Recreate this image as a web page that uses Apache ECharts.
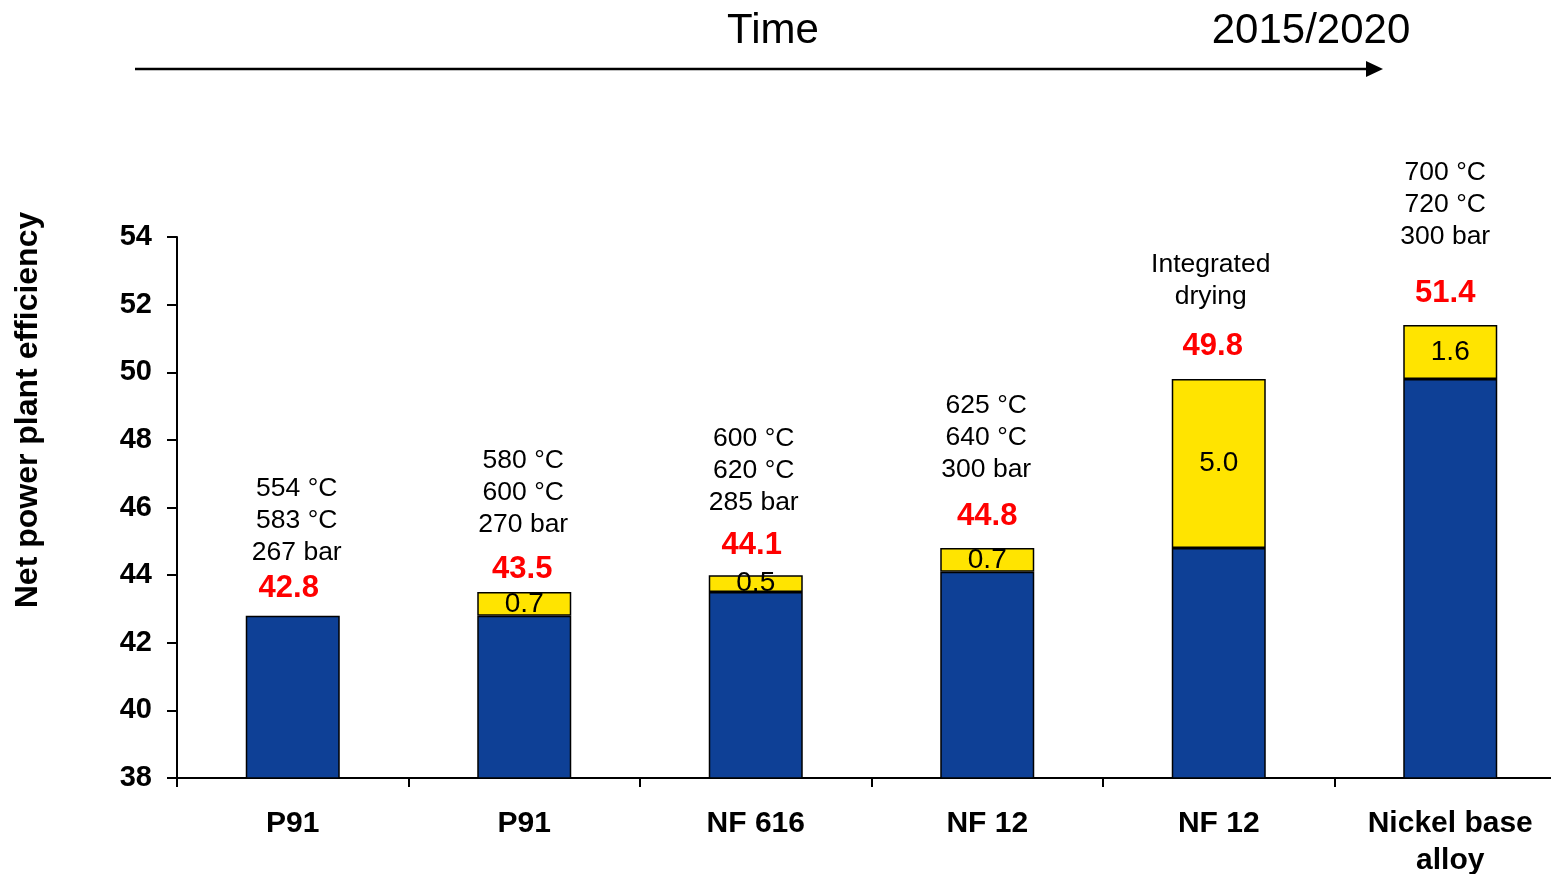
<!DOCTYPE html>
<html>
<head>
<meta charset="utf-8">
<title>Net power plant efficiency</title>
<script src="https://cdn.jsdelivr.net/npm/echarts@6/dist/echarts.min.js"></script>
<style>
  html, body { margin: 0; padding: 0; background: #ffffff; }
  #chart { width: 1551px; height: 874px; }
</style>
</head>
<body>
<div id="chart"></div>
<script>
// Steel grades / materials along the time line
var categories = ['P91', 'P91', 'NF 616', 'NF 12', 'NF 12', 'Nickel base\nalloy'];
// Efficiency of the previous stage (blue part of each bar)
var baseEfficiency = [42.8, 42.8, 43.5, 44.1, 44.8, 49.8];
// Gain over the previous stage (yellow part)
var efficiencyGain = [0, 0.7, 0.5, 0.7, 5.0, 1.6];
// Stated net efficiency above each bar
var totalEfficiency = [42.8, 43.5, 44.1, 44.8, 49.8, 51.4];
// Steam conditions / measures written above each bar
var conditions = [
  ['554 °C', '583 °C', '267 bar'],
  ['580 °C', '600 °C', '270 bar'],
  ['600 °C', '620 °C', '285 bar'],
  ['625 °C', '640 °C', '300 bar'],
  ['Integrated', 'drying'],
  ['700 °C', '720 °C', '300 bar']
];
var yTicks = { min: 38, max: 54, step: 2 };

// Label placement (pixels relative to the top of each bar)
var totalOffsets = [[-4, -27], [-2, -23], [-4, -26], [0, -32], [-6, -33], [-5, -31]];
var conditionOffsets = [[4, -95], [-1, -99], [-2, -101], [-1, -110], [-8, -98], [-5, -120]];

var FONT = '"Liberation Sans", Arial, Helvetica, sans-serif';
var BLUE = '#0E4096';
var YELLOW = '#FFE400';

var chart = echarts.init(document.getElementById('chart'), null, { renderer: 'canvas' });

var gainData = efficiencyGain.map(function (v) { return v > 0 ? v : null; });

var totalPoints = totalEfficiency.map(function (v, i) {
  return {
    value: [i, v],
    label: { offset: totalOffsets[i] }
  };
});

var conditionPoints = totalEfficiency.map(function (v, i) {
  return {
    value: [i, v],
    label: { offset: conditionOffsets[i], formatter: conditions[i].join('\n') }
  };
});

var option = {
  backgroundColor: '#ffffff',
  animation: false,
  grid: {
    left: 177, top: 237, width: 1389, height: 541,
    containLabel: false,
    outerBoundsMode: 'none'
  },
  xAxis: {
    type: 'category',
    data: categories,
    axisLine: { show: true, lineStyle: { color: '#000', width: 2 } },
    axisTick: { show: true, alignWithLabel: false, length: 9, lineStyle: { color: '#000', width: 2 } },
    axisLabel: {
      interval: 0,
      margin: 27,
      color: '#000',
      fontFamily: FONT,
      fontWeight: 'bold',
      fontSize: 30,
      lineHeight: 37
    },
    splitLine: { show: false }
  },
  yAxis: {
    type: 'value',
    min: yTicks.min,
    max: yTicks.max,
    interval: yTicks.step,
    axisLine: { show: true, lineStyle: { color: '#000', width: 2 } },
    axisTick: { show: true, inside: false, length: 10, lineStyle: { color: '#000', width: 2 } },
    axisLabel: {
      margin: 25,
      color: '#000',
      fontFamily: FONT,
      fontWeight: 'bold',
      fontSize: 29
    },
    splitLine: { show: false }
  },
  series: [
    {
      name: 'base',
      type: 'bar',
      stack: 'eff',
      barWidth: 94,
      data: baseEfficiency,
      itemStyle: { color: BLUE, borderColor: '#000', borderWidth: 1.5 },
      z: 2
    },
    {
      name: 'gain',
      type: 'bar',
      stack: 'eff',
      barWidth: 94,
      data: gainData,
      itemStyle: { color: YELLOW, borderColor: '#000', borderWidth: 1.5 },
      label: {
        show: true,
        position: 'inside',
        color: '#000',
        fontFamily: FONT,
        fontSize: 28,
        formatter: function (p) { return p.value.toFixed(1); }
      },
      z: 2
    },
    {
      name: 'total',
      type: 'scatter',
      symbolSize: 0,
      data: totalPoints,
      silent: true,
      itemStyle: { opacity: 1 },
      label: {
        show: true,
        position: 'inside',
        color: '#FF0000',
        opacity: 1,
        fontFamily: FONT,
        fontWeight: 'bold',
        fontSize: 31,
        formatter: function (p) { return p.value[1].toFixed(1); }
      },
      z: 5
    },
    {
      name: 'conditions',
      type: 'scatter',
      symbolSize: 0,
      data: conditionPoints,
      silent: true,
      itemStyle: { opacity: 1 },
      label: {
        show: true,
        position: 'inside',
        color: '#000',
        opacity: 1,
        fontFamily: FONT,
        fontSize: 26.5,
        lineHeight: 32,
        align: 'center'
      },
      z: 5
    }
  ],
  graphic: [
    // time arrow
    {
      type: 'line',
      shape: { x1: 135, y1: 69, x2: 1368, y2: 69 },
      style: { stroke: '#000', lineWidth: 2.5 }
    },
    {
      type: 'polygon',
      shape: { points: [[1366, 61], [1383, 69], [1366, 77]] },
      style: { fill: '#000' }
    },
    {
      type: 'text',
      x: 773, y: 31,
      style: {
        text: 'Time', fill: '#000', font: '42px ' + FONT,
        textAlign: 'center', textVerticalAlign: 'middle'
      }
    },
    {
      type: 'text',
      x: 1311, y: 31,
      style: {
        text: '2015/2020', fill: '#000', font: '42px ' + FONT,
        textAlign: 'center', textVerticalAlign: 'middle'
      }
    },
    // value axis title
    {
      type: 'text',
      x: 28, y: 410,
      rotation: Math.PI / 2,
      style: {
        text: 'Net power plant efficiency', fill: '#000', font: 'bold 32px ' + FONT,
        textAlign: 'center', textVerticalAlign: 'middle'
      }
    }
  ]
};

chart.setOption(option);
</script>
</body>
</html>
